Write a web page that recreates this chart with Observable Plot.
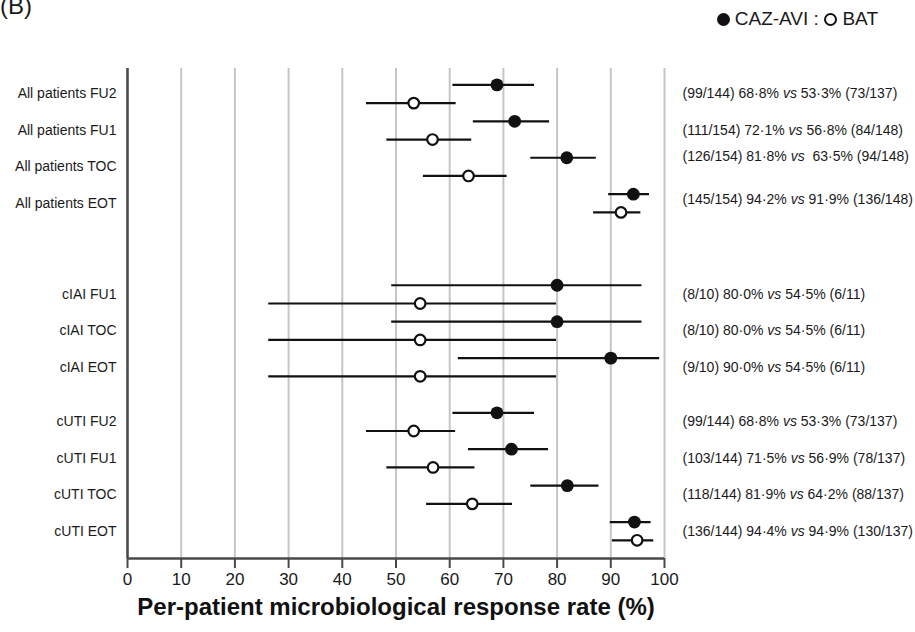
<!DOCTYPE html>
<html>
<head>
<meta charset="utf-8">
<script src="https://cdn.jsdelivr.net/npm/d3@7"></script>
<script src="https://cdn.jsdelivr.net/npm/@observablehq/plot@0.6"></script>
<style>
  html, body { margin: 0; padding: 0; background: #fff; }
  #wrap { position: relative; width: 915px; height: 632px; overflow: hidden; font-family: "Liberation Sans", Arial, sans-serif; color: #1a1a1a; }
  #panel { position: absolute; left: 0; top: -6px; font-size: 24px; line-height: 24px; }
  #legend { position: absolute; right: 37px; top: 9px; font-size: 19px; line-height: 20px; white-space: nowrap; }
  .dot { display: inline-block; width: 13px; height: 13px; border-radius: 50%; box-sizing: border-box; vertical-align: -1px; }
  .dot.f { background: #111; }
  .dot.o { border: 2px solid #111; background: #fff; }
  #chart { position: absolute; left: 0; top: 0; }
</style>
</head>
<body>
<div id="wrap">
  <div id="chart"></div>
  <div id="panel">(B)</div>
  <div id="legend"><span class="dot f"></span> CAZ-AVI : <span class="dot o"></span> BAT</div>
</div>
<script>
// ---- data ----
const labels = ["All patients FU2", "All patients FU1", "All patients TOC", "All patients EOT",
                "cIAI FU1", "cIAI TOC", "cIAI EOT",
                "cUTI FU2", "cUTI FU1", "cUTI TOC", "cUTI EOT"];
const groupOf = ["All patients", "All patients", "All patients", "All patients",
                 "cIAI", "cIAI", "cIAI",
                 "cUTI", "cUTI", "cUTI", "cUTI"];
const cazavi   = [68.8, 72.1, 81.8, 94.2, 80.0, 80.0, 90.0, 68.8, 71.5, 81.9, 94.4];
const cazaviLo = [60.6, 64.4, 75.1, 89.6, 49.2, 49.2, 61.6, 60.6, 63.5, 75.1, 89.9];
const cazaviHi = [75.8, 78.6, 87.3, 97.2, 95.8, 95.8, 99.1, 75.8, 78.4, 87.8, 97.5];
const bat      = [53.3, 56.8, 63.5, 91.9, 54.5, 54.5, 54.5, 53.3, 56.9, 64.2, 94.9];
const batLo    = [44.5, 48.3, 55.1, 86.8, 26.3, 26.3, 26.3, 44.5, 48.3, 55.7, 90.3];
const batHi    = [61.2, 64.1, 70.7, 95.6, 79.9, 79.9, 79.9, 61.1, 64.7, 71.7, 98.0];
const summaries = [
  "(99/144) 68·8% vs 53·3% (73/137)",
  "(111/154) 72·1% vs 56·8% (84/148)",
  "(126/154) 81·8% vs  63·5% (94/148)",
  "(145/154) 94·2% vs 91·9% (136/148)",
  "(8/10) 80·0% vs 54·5% (6/11)",
  "(8/10) 80·0% vs 54·5% (6/11)",
  "(9/10) 90·0% vs 54·5% (6/11)",
  "(99/144) 68·8% vs 53·3% (73/137)",
  "(103/144) 71·5% vs 56·9% (78/137)",
  "(118/144) 81·9% vs 64·2% (88/137)",
  "(136/144) 94·4% vs 94·9% (130/137)"
];
const xTicks = [0, 10, 20, 30, 40, 50, 60, 70, 80, 90, 100];
const xTitle = "Per-patient microbiological response rate (%)";

// ---- layout of rows (two sub-rows per comparison, gaps between groups) ----
const groupStart = {"All patients": 0, "cIAI": 11, "cUTI": 18};
const summaryShift = [0, 0, -0.55, -0.2, 0, 0, 0, 0, 0, 0, 0];
const rows = labels.map((label, i) => {
  const k = labels.slice(0, i).filter((_, j) => groupOf[j] === groupOf[i]).length;
  const row = groupStart[groupOf[i]] + 2 * k;
  return {label, row, summary: summaries[i], shift: summaryShift[i]};
});
const cazPts = labels.map((label, i) => ({row: rows[i].row, v: cazavi[i], lo: cazaviLo[i], hi: cazaviHi[i]}));
const batPts = labels.map((label, i) => ({row: rows[i].row + 1, v: bat[i], lo: batLo[i], hi: batHi[i]}));

const ink = "#111";
const axisInk = "#4a4a4a";

const chart = Plot.plot({
  width: 915,
  height: 632,
  marginLeft: 127,
  marginRight: 251,
  marginTop: 68,
  marginBottom: 74,
  x: {domain: [0, 100]},
  y: {domain: [-0.9, 26], reverse: true, axis: null},
  style: {fontFamily: "'Liberation Sans', Arial, sans-serif", color: "#1a1a1a", background: "transparent", overflow: "visible"},
  marks: [
    Plot.gridX(xTicks, {stroke: "#c6c6c6", strokeWidth: 2, strokeOpacity: 1}),
    Plot.ruleX([0], {stroke: axisInk, strokeWidth: 2.5}),
    Plot.ruleY([26], {stroke: axisInk, strokeWidth: 2.5}),
    Plot.axisX(xTicks, {tickSize: 10, stroke: axisInk, strokeWidth: 2, fontSize: 17, tickPadding: 4, label: null, tickFormat: d => String(d)}),
    Plot.text([xTitle], {text: d => d, frameAnchor: "bottom", dy: 56, fontSize: 24, fontWeight: "bold", fill: "#111"}),
    Plot.ruleY(cazPts, {y: "row", x1: "lo", x2: "hi", stroke: ink, strokeWidth: 2.2}),
    Plot.ruleY(batPts, {y: "row", x1: "lo", x2: "hi", stroke: ink, strokeWidth: 2.2}),
    Plot.dot(cazPts, {x: "v", y: "row", r: 6.4, fill: ink, stroke: "none"}),
    Plot.dot(batPts, {x: "v", y: "row", r: 5.3, fill: "#fff", stroke: ink, strokeWidth: 2.2}),
    Plot.text(rows, {y: d => d.row + 0.5, text: "label", frameAnchor: "left", textAnchor: "end", dx: -11, fontSize: 14, fill: "#1a1a1a"}),
    Plot.text(rows, {y: d => d.row + 0.5 + d.shift, text: "summary", frameAnchor: "right", textAnchor: "start", dx: 18, fontSize: 14, fill: "#1a1a1a"})
  ]
});
document.getElementById("chart").appendChild(chart);

// italicise "vs" in the summary texts
chart.querySelectorAll("text").forEach(t => {
  if (t.children.length === 0 && t.textContent.includes(" vs ")) {
    const [a, b] = t.textContent.split(" vs ");
    t.textContent = "";
    const ns = "http://www.w3.org/2000/svg";
    const s1 = document.createElementNS(ns, "tspan"); s1.textContent = a + " ";
    const s2 = document.createElementNS(ns, "tspan"); s2.textContent = "vs"; s2.setAttribute("font-style", "italic");
    const s3 = document.createElementNS(ns, "tspan"); s3.textContent = " " + b;
    t.append(s1, s2, s3);
  }
});
</script>
</body>
</html>
